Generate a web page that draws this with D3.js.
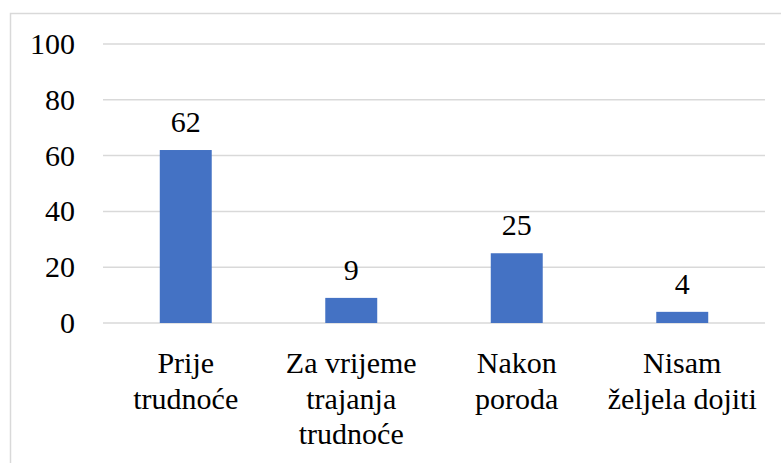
<!DOCTYPE html>
<html>
<head>
<meta charset="utf-8">
<script src="https://cdn.jsdelivr.net/npm/d3@7"></script>
<style>
  body { margin: 0; background: #fff; }
</style>
</head>
<body>
<div class="chart" style="font-family:'Liberation Serif'"></div>
<script>
// chart data
var categories = ["Prije trudnoće", "Za vrijeme trajanja trudnoće", "Nakon poroda", "Nisam željela dojiti"];
var categoryLines = [["Prije", "trudnoće"], ["Za vrijeme", "trajanja", "trudnoće"], ["Nakon", "poroda"], ["Nisam", "željela dojiti"]];
var values = [62, 9, 25, 4];
var yTicks = [0, 20, 40, 60, 80, 100];

(function() {
    var width = 781, height = 463;

    var svg = d3.select(".chart")
                .append("svg")
                .attr("width", width)
                .attr("height", height)
                .attr("font-family", "Liberation Serif")
                .attr("font-size", 30);

    // outer chart border (runs off right/bottom edge)
    svg.append("rect")
        .attr("x", 10.5)
        .attr("y", 13.5)
        .attr("width", 800)
        .attr("height", 500)
        .attr("fill", "none")
        .attr("stroke", "#d9d9d9")
        .attr("stroke-width", 1.5);

    var x = d3.scaleBand()
              .domain(categories)
              .range([103, 765])
              .paddingInner(0.686)
              .paddingOuter(0.343);

    var y = d3.scaleLinear().domain([0, 100]).range([323, 44]);

    // gridlines
    svg.append("g")
        .selectAll("line")
        .data(yTicks)
        .enter().append("line")
        .attr("x1", 103)
        .attr("x2", 765)
        .attr("y1", function(d) { return y(d) })
        .attr("y2", function(d) { return y(d) })
        .attr("stroke", "#d9d9d9")
        .attr("stroke-width", 1.5);

    // y tick labels
    svg.append("g")
        .selectAll("text")
        .data(yTicks)
        .enter().append("text")
        .attr("x", 75)
        .attr("y", function(d) { return y(d) + 10 })
        .attr("text-anchor", "end")
        .attr("fill", "#000")
        .text(function(d) { return d });

    // bars
    svg.selectAll(".bar")
        .data(values)
        .enter().append("rect")
        .attr("class", "bar")
        .attr("x", function(d, i) { return x(categories[i]) })
        .attr("width", x.bandwidth())
        .attr("y", function(d) { return y(d) })
        .attr("height", function(d) { return y(0) - y(d) })
        .attr("fill", "#4472c4");

    // value labels
    svg.selectAll(".val")
        .data(values)
        .enter().append("text")
        .attr("class", "val")
        .attr("x", function(d, i) { return x(categories[i]) + x.bandwidth() / 2 })
        .attr("y", function(d) { return y(d) - 18 })
        .attr("text-anchor", "middle")
        .attr("fill", "#000")
        .text(function(d) { return d });

    // category labels
    var cat = svg.selectAll(".cat")
        .data(categories)
        .enter().append("text")
        .attr("class", "cat")
        .attr("text-anchor", "middle")
        .attr("fill", "#000");
    cat.each(function(d, i) {
        var t = d3.select(this);
        categoryLines[i].forEach(function(line, j) {
            t.append("tspan")
             .attr("x", x(d) + x.bandwidth() / 2)
             .attr("y", y(0) + 50 + j * 35.5)
             .text(line);
        });
    });
})();
</script>
</body>
</html>
